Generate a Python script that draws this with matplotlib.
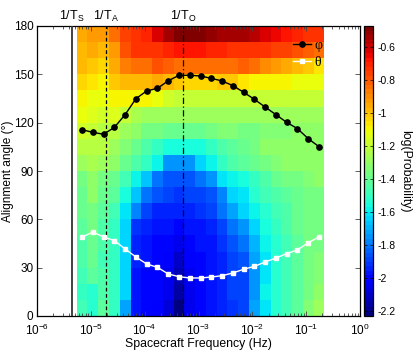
import numpy as np
import matplotlib
matplotlib.use("Agg")
import matplotlib.pyplot as plt
from matplotlib.ticker import FixedLocator, NullFormatter, LogFormatterSciNotation

plt.rcParams['font.family'] = ['Liberation Sans', 'DejaVu Sans']
plt.rcParams['axes.unicode_minus'] = False

# ---- data -------------------------------------------------------------
log_f_first_edge = -5.2625      # lower edge of first frequency bin (log10 Hz)
log_f_bin_width = 0.2           # bin width in decades
n_freq = 23
angle_edges = np.arange(0, 181, 10)

# log(Probability), rows from 170-180 deg (top) down to 0-10 deg (bottom)
logprob_top_to_bottom = [
    [-0.95,-0.92,-0.93,-0.85,-0.75,-0.72,-0.70,-0.62,-0.55,-0.48,-0.48,-0.48,-0.50,-0.55,-0.55,-0.55,-0.58,-0.62,-0.66,-0.68,-0.70,-0.72,-0.73],
    [-0.97,-0.95,-0.97,-0.92,-0.78,-0.72,-0.72,-0.72,-0.70,-0.68,-0.68,-0.68,-0.70,-0.70,-0.72,-0.72,-0.72,-0.73,-0.75,-0.77,-0.80,-0.82,-0.85],
    [-0.98,-1.02,-1.03,-0.95,-0.88,-0.83,-0.85,-0.80,-0.82,-0.83,-0.85,-0.85,-0.85,-0.85,-0.83,-0.82,-0.85,-0.90,-0.93,-0.95,-0.97,-1.00,-1.05],
    [-1.03,-1.05,-1.08,-1.00,-0.98,-0.97,-0.97,-0.95,-0.97,-1.00,-1.03,-1.03,-1.03,-1.02,-1.00,-1.05,-1.08,-1.10,-1.10,-1.10,-1.12,-1.12,-1.13],
    [-1.10,-1.12,-1.13,-1.10,-1.08,-1.10,-1.10,-1.12,-1.18,-1.20,-1.20,-1.20,-1.20,-1.20,-1.20,-1.20,-1.20,-1.20,-1.20,-1.20,-1.20,-1.20,-1.20],
    [-1.13,-1.15,-1.18,-1.15,-1.20,-1.25,-1.27,-1.28,-1.27,-1.27,-1.27,-1.27,-1.27,-1.27,-1.27,-1.27,-1.27,-1.27,-1.27,-1.27,-1.27,-1.27,-1.27],
    [-1.18,-1.20,-1.22,-1.22,-1.27,-1.30,-1.35,-1.37,-1.38,-1.40,-1.40,-1.38,-1.36,-1.34,-1.33,-1.35,-1.35,-1.33,-1.33,-1.33,-1.32,-1.30,-1.30],
    [-1.22,-1.23,-1.22,-1.28,-1.33,-1.40,-1.45,-1.50,-1.55,-1.56,-1.56,-1.55,-1.50,-1.45,-1.42,-1.40,-1.36,-1.32,-1.30,-1.30,-1.30,-1.30,-1.30],
    [-1.27,-1.25,-1.28,-1.32,-1.40,-1.45,-1.50,-1.58,-1.75,-1.76,-1.75,-1.63,-1.58,-1.50,-1.45,-1.42,-1.40,-1.36,-1.33,-1.30,-1.30,-1.30,-1.30],
    [-1.35,-1.30,-1.35,-1.38,-1.47,-1.58,-1.68,-1.80,-1.85,-1.86,-1.85,-1.80,-1.76,-1.62,-1.57,-1.55,-1.50,-1.45,-1.40,-1.37,-1.35,-1.33,-1.32],
    [-1.38,-1.32,-1.40,-1.42,-1.55,-1.68,-1.80,-1.87,-1.90,-1.91,-1.90,-1.88,-1.85,-1.77,-1.64,-1.60,-1.54,-1.48,-1.44,-1.41,-1.40,-1.37,-1.35],
    [-1.40,-1.35,-1.42,-1.47,-1.60,-1.78,-1.88,-1.93,-1.94,-1.95,-1.94,-1.92,-1.88,-1.80,-1.72,-1.65,-1.58,-1.52,-1.47,-1.44,-1.40,-1.37,-1.35],
    [-1.42,-1.37,-1.45,-1.50,-1.63,-1.92,-1.95,-1.97,-1.98,-1.99,-1.98,-1.96,-1.94,-1.88,-1.80,-1.75,-1.65,-1.55,-1.50,-1.45,-1.40,-1.37,-1.35],
    [-1.45,-1.38,-1.45,-1.50,-1.63,-1.94,-1.96,-1.99,-2.01,-2.05,-2.00,-1.98,-1.96,-1.92,-1.85,-1.80,-1.70,-1.57,-1.52,-1.47,-1.42,-1.37,-1.35],
    [-1.45,-1.40,-1.47,-1.50,-1.63,-1.95,-1.98,-2.00,-2.03,-2.10,-2.02,-2.00,-1.98,-1.94,-1.88,-1.85,-1.73,-1.60,-1.52,-1.48,-1.42,-1.35,-1.33],
    [-1.47,-1.42,-1.45,-1.50,-1.63,-1.96,-1.99,-2.01,-2.05,-2.13,-2.04,-2.00,-1.98,-1.95,-1.90,-1.88,-1.75,-1.60,-1.52,-1.48,-1.42,-1.35,-1.33],
    [-1.50,-1.52,-1.45,-1.50,-1.63,-1.96,-1.99,-2.01,-2.06,-2.17,-2.04,-2.00,-1.98,-1.95,-1.90,-1.88,-1.75,-1.58,-1.53,-1.48,-1.42,-1.35,-1.30],
    [-1.48,-1.52,-1.42,-1.50,-1.72,-1.96,-1.99,-2.02,-2.07,-2.21,-2.04,-2.00,-1.98,-1.95,-1.92,-1.88,-1.72,-1.60,-1.53,-1.48,-1.42,-1.33,-1.28],
]

phi_deg = [115.6, 114.0, 112.8, 117.1, 125.0, 134.9, 139.7, 141.3, 146.0, 149.4, 149.4, 149.0,
           147.5, 145.9, 143.0, 138.9, 134.5, 129.7, 125.0, 120.2, 116.3, 110.1, 105.1]
theta_deg = [49.0, 52.1, 49.0, 46.8, 41.6, 36.6, 32.3, 30.2, 26.1, 24.4, 23.6, 23.6,
             24.2, 25.0, 26.7, 29.0, 30.8, 33.5, 36.0, 38.7, 41.0, 45.5, 49.0]

f_S = 4.4e-6
f_A = 1.9e-5
f_O = 5.1e-4
marker_labels = ['1/T$_\\mathregular{S}$', '1/T$_\\mathregular{A}$', '1/T$_\\mathregular{O}$']

x_major_ticks = [1e-6, 1e-5, 1e-4, 1e-3, 1e-2, 1e-1, 1e0]
y_ticks = [0, 30, 60, 90, 120, 150, 180]
cbar_ticks = [-0.6, -0.8, -1.0, -1.2, -1.4, -1.6, -1.8, -2.0, -2.2]
vmin, vmax = -2.23, -0.47

# ---- figure -----------------------------------------------------------
freq_edges = 10 ** (log_f_first_edge + log_f_bin_width * np.arange(n_freq + 1))
freq_centers = np.sqrt(freq_edges[:-1] * freq_edges[1:])
Z = np.array(logprob_top_to_bottom)[::-1]
x_minor_ticks = [k * d for d in x_major_ticks[:-1] for k in range(2, 10)]

fig = plt.figure(figsize=(4.15, 3.56), dpi=100)
W, H = 415.0, 356.0
ax = fig.add_axes([37 / W, 40 / H, 323 / W, 290 / H])
cax = fig.add_axes([364 / W, 40 / H, 9 / W, 290 / H])

cmap = plt.get_cmap('jet', 64)
mesh = ax.pcolormesh(freq_edges, angle_edges, Z, cmap=cmap, vmin=vmin, vmax=vmax,
                     shading='flat', zorder=1)

ax.axvline(f_S, color='#333333', lw=1.3, ls='-', zorder=3)
ax.axvline(f_A, color='black', lw=0.9, ls=(0, (3, 2)), zorder=3)
ax.axvline(f_O, color='black', lw=0.9, ls=(0, (5, 2, 1, 2)), zorder=3)

ax.plot(freq_centers, phi_deg, '-o', color='black', lw=1.0, ms=3.8,
        mfc='black', mec='black', label='φ', zorder=4)
ax.plot(freq_centers, theta_deg, '-s', color='white', lw=1.0, ms=3.2,
        mfc='white', mec='white', label='θ', zorder=4)

ax.set_xscale('log')
ax.set_xlim(1e-6, 1e0)
ax.set_ylim(0, 180)
ax.set_yticks(y_ticks)
ax.xaxis.set_major_locator(FixedLocator(x_major_ticks))
ax.xaxis.set_major_formatter(LogFormatterSciNotation())
ax.xaxis.set_minor_locator(FixedLocator(x_minor_ticks))
ax.xaxis.set_minor_formatter(NullFormatter())
ax.tick_params(which='both', direction='in', top=True, right=True, labelsize=8.5,
               width=0.6, color='#444444')
ax.tick_params(axis='x', which='major', pad=5)
ax.tick_params(axis='y', which='major', pad=2.5)
ax.tick_params(which='major', length=3.5)
ax.tick_params(which='minor', length=2)
for s in ax.spines.values():
    s.set_linewidth(0.9)

ax.set_xlabel('Spacecraft Frequency (Hz)', fontsize=8.8, labelpad=0)
ax.set_ylabel('Alignment angle (°)', fontsize=8.6)
ax.yaxis.set_label_coords(-0.07, 0.5)

for fx, lab in zip([f_S, f_A, f_O], marker_labels):
    ax.text(fx, 181.5, lab, ha='center', va='bottom', fontsize=9, clip_on=False)

leg = ax.legend(loc='upper right', bbox_to_anchor=(0.9, 0.975), frameon=False,
                handlelength=1.25, handletextpad=0.25, labelspacing=0.3,
                borderaxespad=0.0,
                prop={'family': ['Liberation Serif', 'DejaVu Serif'], 'size': 10})

cb = fig.colorbar(mesh, cax=cax)
cb.set_ticks(cbar_ticks)
cb.set_ticklabels(['%g' % t for t in cbar_ticks])
cb.ax.tick_params(direction='in', labelsize=7.5, length=2.5, width=0.5, left=True, right=True)
cb.outline.set_linewidth(0.9)
cb.set_label('log(Probability)', rotation=270, fontsize=8.8, labelpad=11)

fig.savefig('out.png', dpi=100)
